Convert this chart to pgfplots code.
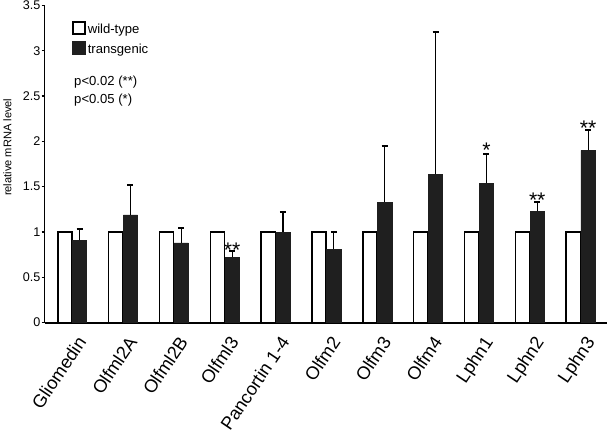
\documentclass[border=0pt]{standalone}
\usepackage{pgfplots}
\pgfplotsset{compat=1.18}
\usepackage{fontspec}
\setmainfont{Liberation Sans}
\begin{document}
\begin{tikzpicture}
\begin{axis}[
  scale only axis, width=558pt, height=314.7pt,
  ymin=0, ymax=3.5, xmin=-0.54, xmax=10.52,
  axis x line*=bottom, axis y line*=left,
  x axis line style={line width=2.2pt,-},
  y axis line style={line width=1.2pt,-},
  ytick={0,0.5,1,1.5,2,2.5,3,3.5},
  yticklabels={0,0.5,1,1.5,2,2.5,3,3.5},
  yticklabel style={font=\fontsize{12.5}{12.5}\selectfont, inner sep=1pt},
  ytick style={line width=1.2pt, black},
  tick align=outside, major tick length=3pt,
  xtick={0,...,10},
  xticklabels={Gliomedin,Olfml2A,Olfml2B,Olfml3,Pancortin 1-4,Olfm2,Olfm3,Olfm4,Lphn1,Lphn2,Lphn3},
  xtick style={draw=none},
  xticklabel style={font=\fontsize{18}{18}\selectfont, xshift=4pt, yshift=-9pt, rotate=56, anchor=north east, inner sep=0pt},
  ylabel={relative mRNA level},
  ylabel style={font=\fontsize{11}{11}\selectfont, at={(axis description cs:-0.066,0.553)}, anchor=center},
  ybar, bar width=0.28,
  legend style={at={(axis cs:0.0,3.33)}, anchor=north west, draw=none, fill=none,
    font=\fontsize{13}{14}\selectfont, row sep=4pt, inner sep=0pt},
  legend cell align=left,
  legend image code/.code={\draw[#1, line width=1.5pt] (0pt,-4.5pt) rectangle (12pt,7.5pt);},
  error bars/y dir=plus, error bars/y explicit,
  error bars/error bar style={line width=1.1pt, black},
  error bars/error mark options={rotate=90, mark size=3pt, line width=1.8pt, black},
]
\addplot[bar shift=-0.14, fill=white, draw=black, line width=1.5pt] coordinates {
 (0,1) (1,1) (2,1) (3,1) (4,1) (5,1) (6,1) (7,1) (8,1) (9,1) (10,1)};
\addlegendentry{wild-type}
\addplot[bar shift=0.15, fill=black!88, draw=black!88, line width=0.5pt] coordinates {
 (0,0.91) +- (0,0.12)
 (1,1.19) +- (0,0.325)
 (2,0.88) +- (0,0.165)
 (3,0.72) +- (0,0.07)
 (4,1.00) +- (0,0.22)
 (5,0.81) +- (0,0.19)
 (6,1.33) +- (0,0.62)
 (7,1.64) +- (0,1.57)
 (8,1.54) +- (0,0.32)
 (9,1.23) +- (0,0.10)
 (10,1.90) +- (0,0.23)};
\addlegendentry{transgenic}
\node[anchor=west, font=\fontsize{13}{14}\selectfont, inner sep=0pt] at (axis cs:0.04,2.65) {p<0.02 (**)};
\node[anchor=west, font=\fontsize{13}{14}\selectfont, inner sep=0pt] at (axis cs:0.04,2.46) {p<0.05 (*)};
\node[font=\fontsize{21}{21}\selectfont] at (axis cs:3.15,0.80) {**};
\node[font=\fontsize{21}{21}\selectfont] at (axis cs:8.15,1.90) {*};
\node[font=\fontsize{21}{21}\selectfont] at (axis cs:9.15,1.35) {**};
\node[font=\fontsize{21}{21}\selectfont] at (axis cs:10.15,2.15) {**};
\end{axis}
\end{tikzpicture}
\end{document}
